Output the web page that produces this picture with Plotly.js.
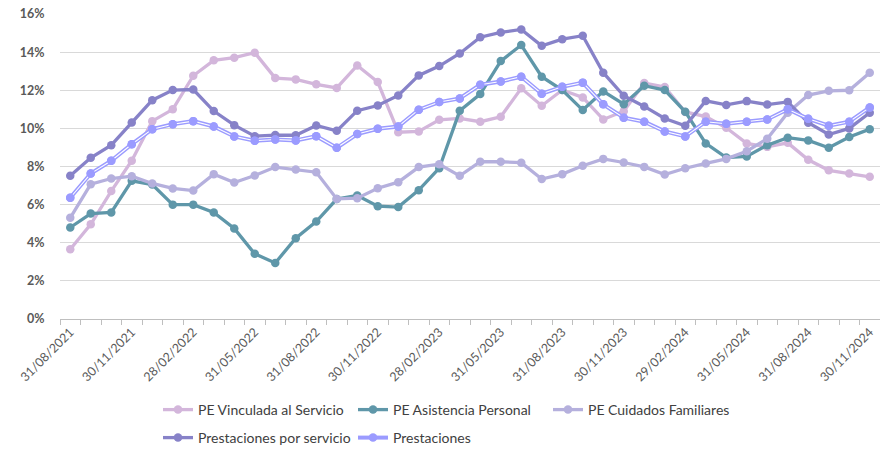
<!DOCTYPE html>
<html><head><meta charset="utf-8">
<script src="https://cdn.plot.ly/plotly-3.0.1.min.js"></script>
<style>html,body{margin:0;padding:0;background:#fff}#chart{width:880px;height:449px}</style>
</head><body><div id="chart"></div>
<script>
const months = ["31/08/2021","30/09/2021","31/10/2021","30/11/2021","31/12/2021",
"31/01/2022","28/02/2022","31/03/2022","30/04/2022","31/05/2022","30/06/2022","31/07/2022","31/08/2022","30/09/2022","31/10/2022","30/11/2022","31/12/2022",
"31/01/2023","28/02/2023","31/03/2023","30/04/2023","31/05/2023","30/06/2023","31/07/2023","31/08/2023","30/09/2023","31/10/2023","30/11/2023","31/12/2023",
"31/01/2024","29/02/2024","31/03/2024","30/04/2024","31/05/2024","30/06/2024","31/07/2024","31/08/2024","30/09/2024","31/10/2024","30/11/2024"];

const peVinculada = [3.66,4.97,6.71,8.30,10.38,11.00,12.76,13.57,13.71,13.97,12.64,12.57,12.31,12.12,13.30,12.43,9.80,9.84,10.45,10.52,10.35,10.61,12.10,11.19,12.01,11.62,10.47,10.90,12.38,12.17,10.86,10.62,10.03,9.21,9.03,9.24,8.35,7.80,7.63,7.46];
const peAsistencia = [4.80,5.53,5.59,7.25,7.05,6.00,6.00,5.59,4.75,3.42,2.94,4.24,5.11,6.29,6.48,5.92,5.87,6.76,7.91,10.92,11.80,13.53,14.37,12.71,12.01,10.96,11.94,11.27,12.24,12.01,10.87,9.21,8.47,8.53,9.12,9.51,9.37,8.98,9.55,9.96];
const peCuidados = [5.31,7.07,7.37,7.49,7.11,6.85,6.74,7.60,7.16,7.53,7.97,7.84,7.70,6.30,6.34,6.86,7.18,7.97,8.12,7.51,8.25,8.25,8.20,7.34,7.60,8.04,8.40,8.21,7.98,7.58,7.91,8.16,8.40,8.80,9.46,10.82,11.75,11.97,12.00,12.92];
const prestServicio = [7.51,8.46,9.12,10.31,11.48,12.01,12.04,10.91,10.17,9.59,9.65,9.64,10.15,9.87,10.93,11.20,11.73,12.78,13.27,13.93,14.78,15.03,15.19,14.33,14.68,14.86,12.92,11.71,11.15,10.52,10.14,11.44,11.23,11.43,11.25,11.39,10.30,9.68,10.00,10.82];
const prestaciones = [6.36,7.63,8.30,9.17,9.96,10.22,10.38,10.10,9.58,9.35,9.42,9.37,9.59,8.98,9.70,9.98,10.10,10.98,11.38,11.57,12.29,12.46,12.71,11.82,12.18,12.40,11.26,10.56,10.35,9.84,9.58,10.35,10.24,10.35,10.47,11.00,10.50,10.14,10.35,11.10];

const seriesNames = ["PE Vinculada al Servicio","PE Asistencia Personal","PE Cuidados Familiares","Prestaciones por servicio","Prestaciones"];
const colors = ["#D3B6DB","#5F97A9","#B5B0DD","#8782C8","#9B9BFF"];

const x = months.map((m,i)=>i);
const tickIdx = x.filter(i=>i%3===0);
const font = "Lato, 'Liberation Sans', Arial, sans-serif";

function tr(name, y, color, legend){
  return {type:'scatter', mode:'lines+markers', name:name, x:x, y:y,
    line:{color:color, width:3.3}, marker:{color:color, size:8.5, symbol:'circle'},
    legend:legend, hoverinfo:'skip'};
}
const data = [
  tr(seriesNames[0], peVinculada, colors[0], 'legend'),
  tr(seriesNames[1], peAsistencia, colors[1], 'legend'),
  tr(seriesNames[2], peCuidados, colors[2], 'legend'),
  tr(seriesNames[3], prestServicio, colors[3], 'legend2'),
  {type:'scatter', mode:'lines+markers', name:seriesNames[4], x:x, y:prestaciones,
    line:{color:colors[4], width:4}, marker:{color:colors[4], size:8.5}, legend:'legend2', hoverinfo:'skip'},
  {type:'scatter', mode:'lines', x:x, y:prestaciones, line:{color:'#ffffff', width:1.1},
    showlegend:false, hoverinfo:'skip'},
  {type:'scatter', mode:'markers', x:x, y:prestaciones, marker:{color:colors[4], size:8.5},
    showlegend:false, hoverinfo:'skip'}
];

const legendCommon = {orientation:'h', xref:'container', yref:'container', xanchor:'left', yanchor:'middle',
  entrywidth:150, entrywidthmode:'pixels', font:{family:font, size:14, color:'#404040'},
  bgcolor:'rgba(0,0,0,0)', traceorder:'normal'};

const layout = {
  width:880, height:449,
  margin:{l:60, r:0, t:14, b:130, autoexpand:false},
  paper_bgcolor:'#fff', plot_bgcolor:'#fff',
  font:{family:font, color:'#595959', size:12},
  showlegend:true,
  xaxis:{range:[-0.5,39.5], automargin:false, tickmode:'array', tickvals:tickIdx, ticktext:tickIdx.map(i=>months[i]),
    tickangle:-45, ticks:'', showgrid:false, zeroline:false, showline:true, linecolor:'#bfbfbf', linewidth:1,
    tickfont:{family:font, size:12.5, color:'#595959'},
    minor:{tickmode:'linear', tick0:-0.5, dtick:1, ticks:'outside', ticklen:5, tickcolor:'#bfbfbf', showgrid:false}},
  yaxis:{range:[0,16], automargin:false, dtick:2, tick0:0, ticksuffix:'%', showgrid:true, gridcolor:'#d9d9d9', gridwidth:1,
    zeroline:false, showline:false, ticks:'outside', ticklen:12, tickcolor:'rgba(0,0,0,0)',
    tickfont:{family:font, size:12.5, color:'#595959', weight:'bold'}},
  legend:Object.assign({}, legendCommon, {x:(158/880), y:1-(410/449)}),
  legend2:Object.assign({}, legendCommon, {x:(158/880), y:1-(438/449)})
};
Plotly.newPlot('chart', data, layout, {staticPlot:true, displayModeBar:false});
</script></body></html>
